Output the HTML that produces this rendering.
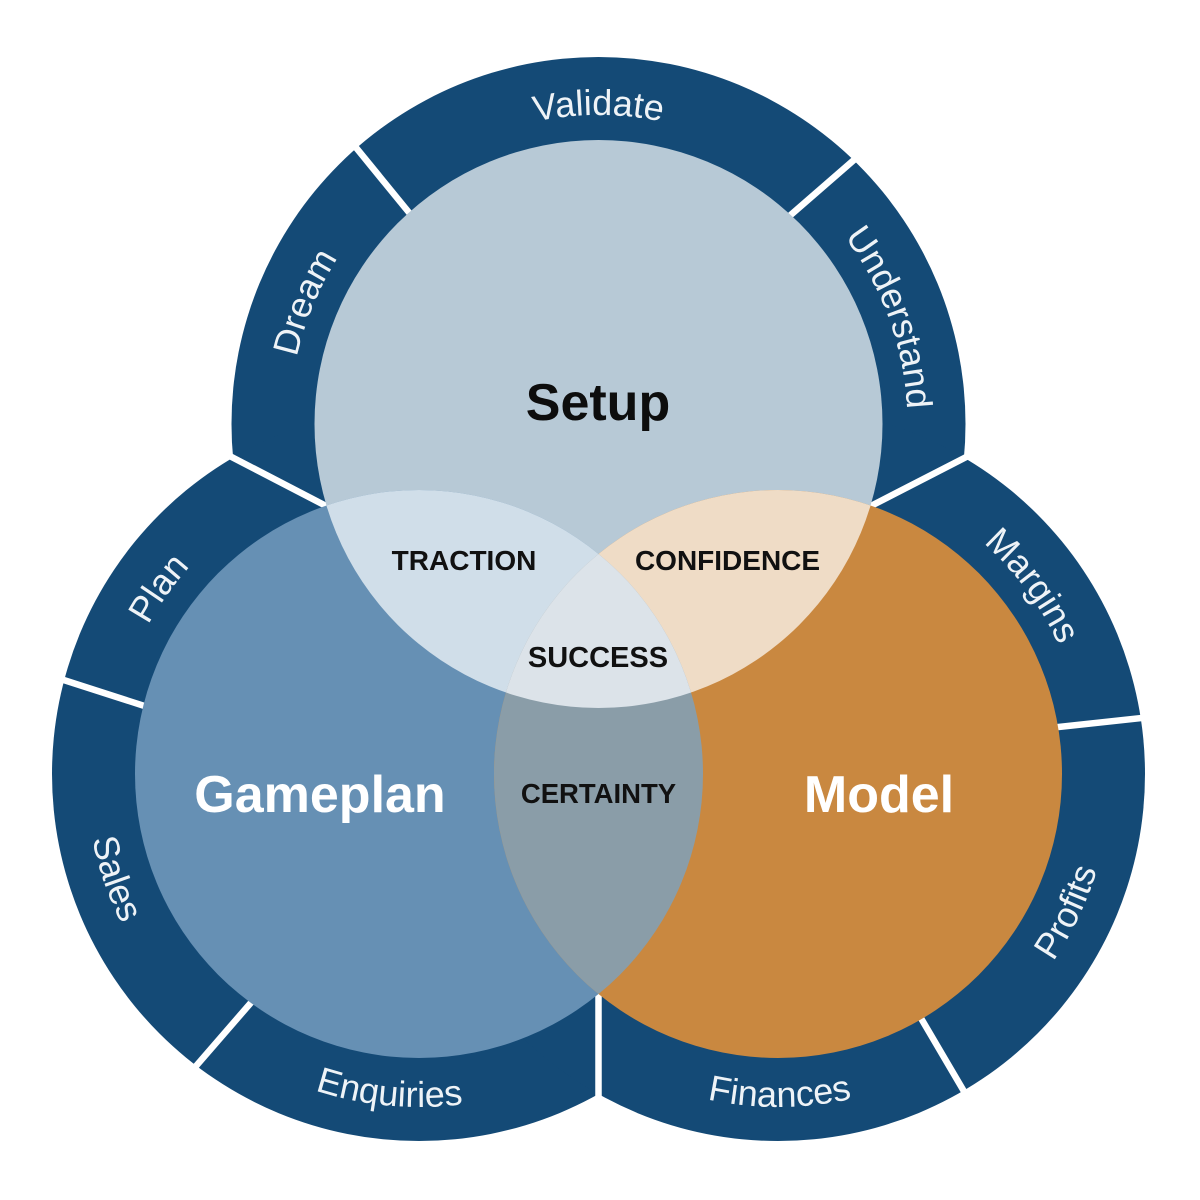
<!DOCTYPE html>
<html>
<head>
<meta charset="utf-8">
<style>
  html, body { margin: 0; padding: 0; background: #ffffff; }
  body { width: 1200px; height: 1200px; overflow: hidden; }
  svg { display: block; }
  .ring { font-family: "Liberation Sans", "DejaVu Sans", sans-serif; font-size: 36px; fill: #eef3f7; font-weight: normal; }
  .big { font-family: "Liberation Sans", "DejaVu Sans", sans-serif; font-weight: bold; font-size: 52px; }
  .small { font-family: "Liberation Sans", "DejaVu Sans", sans-serif; font-weight: bold; fill: #111111; }
</style>
</head>
<body>
<svg width="1200" height="1200" viewBox="0 0 1200 1200" xmlns="http://www.w3.org/2000/svg">
  <defs>
    <clipPath id="cS"><circle cx="598.5" cy="424" r="284"/></clipPath>
    <clipPath id="cG"><circle cx="419" cy="774" r="284"/></clipPath>
    <clipPath id="cM"><circle cx="778" cy="774" r="284"/></clipPath>

    <!-- text arcs: outward (clockwise, r=309) -->
    <path id="pValidate" d="M330.9,269.5 A309,309 0 0 1 866.1,269.5"/>
    <path id="pDream" d="M353.3,612.1 A309,309 0 0 1 558.2,117.7"/>
    <path id="pUnderstand" d="M652.1,119.7 A309,309 0 0 1 835.2,622.6"/>
    <path id="pPlan" d="M137.8,902.1 A309,309 0 0 1 448.6,466.4"/>
    <path id="pMargins" d="M743,467 A309,309 0 0 1 1061.4,897.2"/>
    <!-- inward (counter-clockwise, r=333) -->
    <path id="pSales" d="M167.7,555.5 A333,333 0 0 0 355.5,1100.9"/>
    <path id="pEnquiries" d="M116.5,913.2 A333,333 0 0 0 690.8,966.4"/>
    <path id="pProfits" d="M804.1,1106 A333,333 0 0 0 1052.4,585.4"/>
    <path id="pFinances" d="M490.5,942 A333,333 0 0 0 1067.2,939"/>
  </defs>

  <rect x="0" y="0" width="1200" height="1200" fill="#ffffff"/>

  <!-- dark outer rings (union of disks) -->
  <g fill="#144a76">
    <circle cx="598.5" cy="424" r="367"/>
    <circle cx="419" cy="774" r="367"/>
    <circle cx="778" cy="774" r="367"/>
  </g>

  <!-- white dividers -->
  <g stroke="#ffffff" stroke-width="6.5" stroke-linecap="butt">
    <line x1="340" y1="128" x2="420" y2="226"/>
    <line x1="870" y1="146" x2="778" y2="226"/>
    <line x1="222" y1="452" x2="330" y2="508"/>
    <line x1="976" y1="452" x2="867" y2="508"/>
    <line x1="45" y1="674" x2="160" y2="711"/>
    <line x1="190" y1="1073" x2="255" y2="998"/>
    <line x1="598.5" y1="985" x2="598.5" y2="1110"/>
    <line x1="1040" y1="729" x2="1160" y2="716"/>
    <line x1="915" y1="1008" x2="972" y2="1105"/>
  </g>

  <!-- base circles -->
  <circle cx="598.5" cy="424" r="284" fill="#b7c9d6"/>
  <circle cx="419" cy="774" r="284" fill="#6690b4"/>
  <circle cx="778" cy="774" r="284" fill="#c98840"/>

  <!-- pairwise overlaps -->
  <circle cx="419" cy="774" r="284" fill="#d0dee9" clip-path="url(#cS)"/>
  <circle cx="778" cy="774" r="284" fill="#efdcc6" clip-path="url(#cS)"/>
  <circle cx="778" cy="774" r="284" fill="#8a9da8" clip-path="url(#cG)"/>
  <!-- triple overlap -->
  <g clip-path="url(#cG)">
    <circle cx="778" cy="774" r="284" fill="#dce3e9" clip-path="url(#cS)"/>
  </g>

  <!-- ring labels -->
  <text class="ring"><textPath href="#pValidate" startOffset="50%" text-anchor="middle">Validate</textPath></text>
  <text class="ring"><textPath href="#pDream" startOffset="50%" text-anchor="middle">Dream</textPath></text>
  <text class="ring"><textPath href="#pUnderstand" startOffset="50%" text-anchor="middle">Understand</textPath></text>
  <text class="ring"><textPath href="#pPlan" startOffset="50%" text-anchor="middle">Plan</textPath></text>
  <text class="ring"><textPath href="#pSales" startOffset="50%" text-anchor="middle">Sales</textPath></text>
  <text class="ring"><textPath href="#pEnquiries" startOffset="50%" text-anchor="middle">Enquiries</textPath></text>
  <text class="ring"><textPath href="#pMargins" startOffset="50%" text-anchor="middle">Margins</textPath></text>
  <text class="ring"><textPath href="#pProfits" startOffset="50%" text-anchor="middle">Profits</textPath></text>
  <text class="ring"><textPath href="#pFinances" startOffset="50%" text-anchor="middle">Finances</textPath></text>

  <!-- main labels -->
  <text class="big" x="598" y="420" text-anchor="middle" fill="#0d0d0d">Setup</text>
  <text class="big" x="320" y="812" text-anchor="middle" fill="#ffffff">Gameplan</text>
  <text class="big" x="879" y="812" text-anchor="middle" fill="#ffffff">Model</text>

  <!-- overlap labels -->
  <text class="small" x="464" y="570" text-anchor="middle" font-size="28">TRACTION</text>
  <text class="small" x="727.5" y="570" text-anchor="middle" font-size="28">CONFIDENCE</text>
  <text class="small" x="598" y="667" text-anchor="middle" font-size="29">SUCCESS</text>
  <text class="small" x="598.5" y="803" text-anchor="middle" font-size="27.5">CERTAINTY</text>
</svg>
</body>
</html>
